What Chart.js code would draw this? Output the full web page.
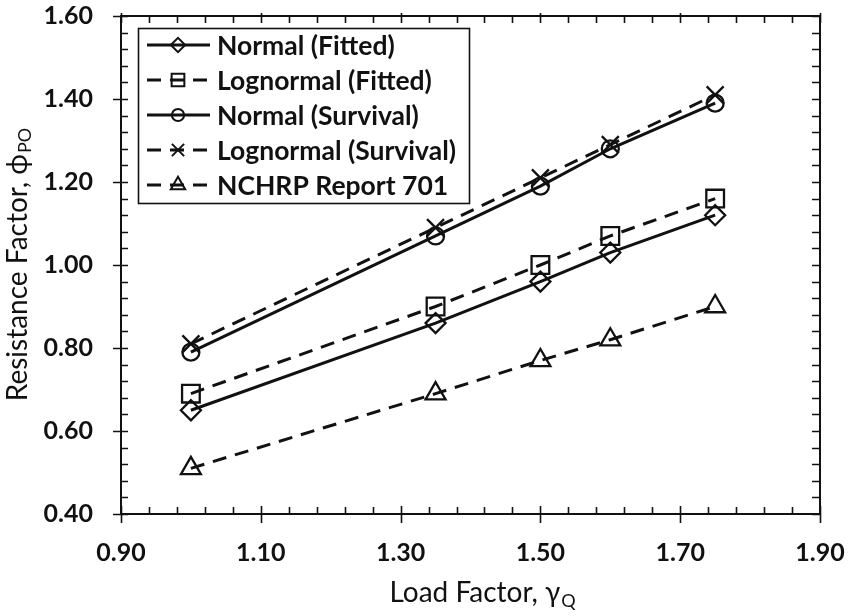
<!DOCTYPE html>
<html>
<head>
<meta charset="utf-8">
<title>Resistance factor vs load factor</title>
<script src="https://cdn.jsdelivr.net/npm/chart.js@4/dist/chart.umd.min.js"></script>
<style>
  html, body { margin: 0; padding: 0; background: #fff; }
  #wrap { width: 850px; height: 616px; }
</style>
</head>
<body>
<div id="wrap"><canvas id="grafico" width="850" height="616"></canvas></div>
<script>
// --- datos ---
const loadFactor = [1.00, 1.35, 1.50, 1.60, 1.75];
const normalFitted = [0.65, 0.86, 0.96, 1.03, 1.12];
const lognormalFitted = [0.69, 0.90, 1.00, 1.07, 1.16];
const normalSurvival = [0.79, 1.07, 1.19, 1.28, 1.39];
const lognormalSurvival = [0.81, 1.09, 1.21, 1.29, 1.41];
const nchrp701 = [0.51, 0.69, 0.77, 0.82, 0.90];

const seriesLabels = ['Normal (Fitted)', 'Lognormal (Fitted)', 'Normal (Survival)',
  'Lognormal (Survival)', 'NCHRP Report 701'];

const xMin = 0.90, xMax = 1.90, yMin = 0.40, yMax = 1.60;
const majorStep = 0.2, minorStep = 0.04;

const DASH = [14, 9];
const INK = '#111';
const LEGEND_FONT = 'bold 26.5px Lato, "Open Sans", sans-serif';
const TITLE_FONT = '28px Lato, "Open Sans", sans-serif';
const SUB_FONT = '18px Lato, "Open Sans", sans-serif';

function toPoints(vals) {
  return vals.map((v, i) => ({ x: loadFactor[i], y: v }));
}

function serie(label, vals, style, radius, dashed) {
  return {
    label: label,
    data: toPoints(vals),
    borderColor: INK,
    borderWidth: 3,
    borderDash: dashed ? DASH : [],
    backgroundColor: 'rgba(0,0,0,0)',
    pointStyle: style,
    pointRadius: radius,
    pointHoverRadius: radius,
    pointBorderWidth: 2.3,
    pointBorderColor: INK,
    pointBackgroundColor: 'rgba(0,0,0,0)',
    fill: false,
    tension: 0
  };
}

// marco con marcas mayores/menores y los titulos de ejes
const marcoEjes = {
  id: 'marcoEjes',
  afterDatasetsDraw(chart) {
    const { ctx, chartArea: a, scales } = chart;
    const sx = scales.x, sy = scales.y;
    ctx.save();
    ctx.strokeStyle = INK;
    ctx.lineWidth = 2;
    ctx.setLineDash([]);
    ctx.strokeRect(a.left, a.top, a.right - a.left, a.bottom - a.top);

    ctx.lineWidth = 1.6;
    ctx.beginPath();
    const nx = Math.round((xMax - xMin) / minorStep);
    for (let i = 0; i <= nx; i++) {
      const px = Math.round(sx.getPixelForValue(xMin + i * minorStep)) + 0.5;
      const major = i % 5 === 0;
      // abajo
      ctx.moveTo(px, a.bottom + (major ? 9 : 0));
      ctx.lineTo(px, a.bottom - (major ? 8 : 7));
      // arriba
      ctx.moveTo(px, a.top - (major ? 3 : 0));
      ctx.lineTo(px, a.top + 7);
    }
    const ny = Math.round((yMax - yMin) / minorStep);
    for (let j = 0; j <= ny; j++) {
      const py = Math.round(sy.getPixelForValue(yMin + j * minorStep)) + 0.5;
      const major = j % 5 === 0;
      // izquierda
      ctx.moveTo(a.left - (major ? 8 : 0), py);
      ctx.lineTo(a.left + 7, py);
      // derecha
      ctx.moveTo(a.right, py);
      ctx.lineTo(a.right - 8, py);
    }
    ctx.stroke();
    ctx.restore();
  },
  afterDraw(chart) {
    const { ctx, chartArea: a } = chart;
    ctx.save();
    ctx.fillStyle = INK;
    ctx.textBaseline = 'middle';
    ctx.textAlign = 'left';

    // titulo eje x
    const xMain = 'Load Factor, \u03B3', xSub = 'Q';
    ctx.font = TITLE_FONT;
    const wMain = ctx.measureText(xMain).width;
    ctx.font = SUB_FONT;
    const wSub = ctx.measureText(xSub).width;
    let x0 = 482 - (wMain + wSub) / 2;
    ctx.font = TITLE_FONT;
    ctx.fillText(xMain, x0, 593);
    ctx.font = SUB_FONT;
    ctx.fillText(xSub, x0 + wMain + 1, 601);

    // titulo eje y
    const yMain = 'Resistance Factor, \u03D5', ySub = 'PO';
    ctx.font = TITLE_FONT;
    const wyMain = ctx.measureText(yMain).width;
    ctx.font = SUB_FONT;
    const wySub = ctx.measureText(ySub).width;
    ctx.translate(18, (a.top + a.bottom) / 2);
    ctx.rotate(-Math.PI / 2);
    const y0 = -(wyMain + wySub) / 2;
    ctx.font = TITLE_FONT;
    ctx.fillText(yMain, y0, 0);
    ctx.font = SUB_FONT;
    ctx.fillText(ySub, y0 + wyMain + 1, 7);
    ctx.restore();
  }
};

// leyenda con muestra de linea + marcador
const leyendaLinea = {
  id: 'leyendaLinea',
  afterDraw(chart) {
    const { ctx } = chart;
    const box = { left: 138, top: 28, right: 469, bottom: 203 };
    const rowY0 = 45, rowGap = 35;
    const lineX0 = 147, lineX1 = 210, markX = 178, textX = 217;
    ctx.save();
    ctx.fillStyle = '#fff';
    ctx.fillRect(box.left, box.top, box.right - box.left, box.bottom - box.top);
    ctx.strokeStyle = INK;
    ctx.lineWidth = 1.6;
    ctx.setLineDash([]);
    ctx.strokeRect(box.left + 0.5, box.top + 0.5, box.right - box.left, box.bottom - box.top);

    chart.data.datasets.forEach((ds, i) => {
      const y = rowY0 + i * rowGap;
      ctx.strokeStyle = ds.borderColor;
      ctx.lineWidth = ds.borderWidth;
      ctx.setLineDash(ds.borderDash || []);
      ctx.beginPath();
      ctx.moveTo(lineX0, y);
      ctx.lineTo(lineX1, y);
      ctx.stroke();

      ctx.setLineDash([]);
      ctx.fillStyle = 'rgba(0,0,0,0)';
      ctx.strokeStyle = ds.pointBorderColor;
      ctx.lineWidth = 2;
      Chart.helpers.drawPoint(ctx, {
        pointStyle: ds.pointStyle,
        radius: ds.pointRadius * 0.72,
        rotation: 0,
        borderWidth: 2
      }, markX, y);

      ctx.fillStyle = INK;
      ctx.font = LEGEND_FONT;
      ctx.textBaseline = 'middle';
      ctx.textAlign = 'left';
      ctx.fillText(ds.label, textX, y + 1);
    });
    ctx.restore();
  }
};

const ctx = document.getElementById('grafico').getContext('2d');
new Chart(ctx, {
  type: 'line',
  data: {
    datasets: [
      serie(seriesLabels[0], normalFitted, 'rectRot', 10, false),
      serie(seriesLabels[1], lognormalFitted, 'rect', 12.5, true),
      serie(seriesLabels[2], normalSurvival, 'circle', 8.5, false),
      serie(seriesLabels[3], lognormalSurvival, 'crossRot', 12, true),
      serie(seriesLabels[4], nchrp701, 'triangle', 11.5, true)
    ]
  },
  options: {
    responsive: false,
    animation: false,
    layout: { padding: { top: 16, right: 30, left: 0, bottom: 0 } },
    plugins: {
      legend: { display: false },
      tooltip: { enabled: false },
      title: { display: false }
    },
    scales: {
      x: {
        type: 'linear',
        min: xMin,
        max: xMax,
        afterFit(scale) {
          scale.height = 102;
          scale.paddingLeft = 0;
          scale.paddingRight = 0;
        },
        grid: { display: false, drawTicks: false },
        border: { display: false },
        ticks: {
          stepSize: majorStep,
          padding: 24,
          color: INK,
          font: { family: 'Lato, "Open Sans", sans-serif', size: 25, weight: 'bold' },
          maxRotation: 0,
          callback: v => Number(v).toFixed(2)
        }
      },
      y: {
        min: yMin,
        max: yMax,
        afterFit(scale) {
          scale.width = 121;
          scale.paddingTop = 0;
          scale.paddingBottom = 0;
        },
        grid: { display: false, drawTicks: false },
        border: { display: false },
        ticks: {
          stepSize: majorStep,
          padding: 28,
          color: INK,
          font: { family: 'Lato, "Open Sans", sans-serif', size: 25, weight: 'bold' },
          callback: v => Number(v).toFixed(2)
        }
      }
    }
  },
  plugins: [marcoEjes, leyendaLinea]
});
</script>
</body>
</html>
